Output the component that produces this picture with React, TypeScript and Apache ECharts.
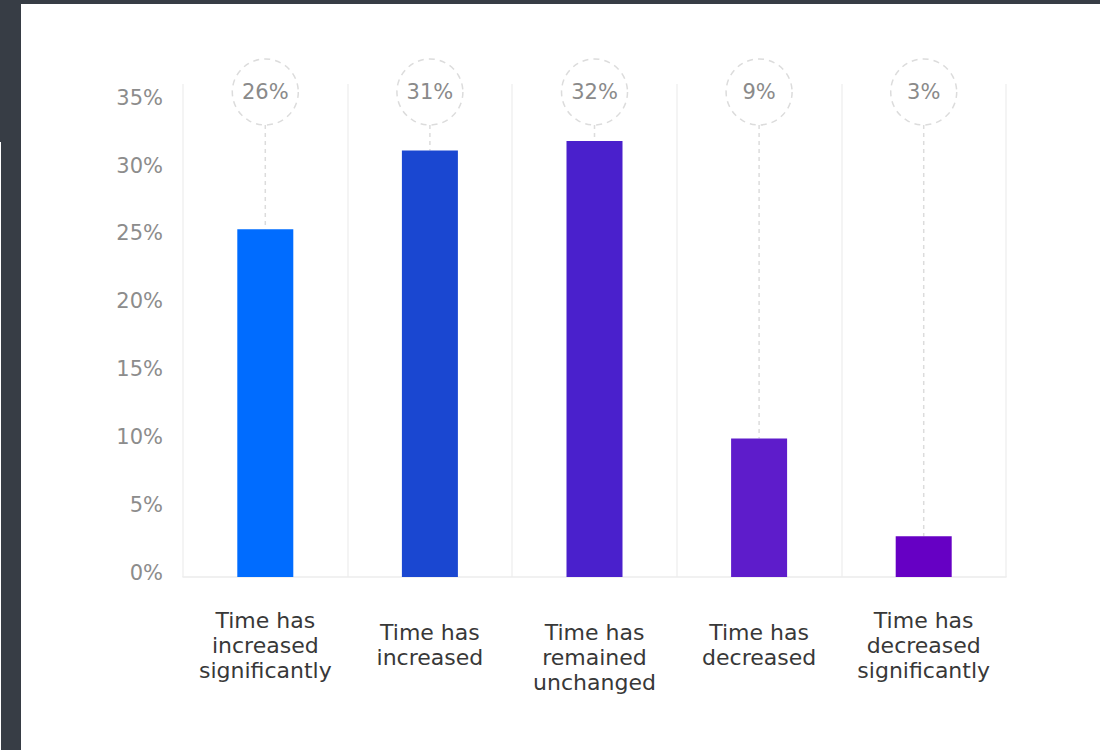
import React, { useEffect, useRef } from "react";
import * as echarts from "echarts";

const categories = [
  "Time has\nincreased\nsignificantly",
  "Time has\nincreased",
  "Time has\nremained\nunchanged",
  "Time has\ndecreased",
  "Time has\ndecreased\nsignificantly",
];
const values = [25.6, 31.4, 32.1, 10.2, 3.0];
const valueLabels = ["26%", "31%", "32%", "9%", "3%"];
const barColors = ["#006CFF", "#1A47D1", "#4A20CC", "#5E1CCB", "#6600C4"];
const yTicks = [0, 5, 10, 15, 20, 25, 30, 35];

const FONT = "'DejaVu Sans', 'Noto Sans', sans-serif";

export default function App() {
  const ref = useRef<HTMLDivElement>(null);
  useEffect(() => {
    document.body.style.margin = "0";
    const chart = echarts.init(ref.current!, null, { renderer: "svg" });
    const yMax = 36.3;
    chart.setOption({
      animation: false,
      backgroundColor: "#ffffff",
      grid: { left: 183, right: 94, top: 84, bottom: 173, containLabel: false },
      xAxis: {
        type: "category",
        data: categories,
        axisLine: { show: true, lineStyle: { color: "#ececec", width: 1.5 } },
        axisTick: { show: false },
        splitLine: { show: true, lineStyle: { color: "#f1f1f1", width: 1.5 } },
        axisLabel: {
          interval: 0,
          margin: 68,
          verticalAlign: "middle",
          lineHeight: 25,
          fontSize: 22,
          fontFamily: FONT,
          color: "#383838",
          align: "center",
          formatter: (v: string, i: number) => (i === 2 ? " \n" + v : v),
        },
      },
      yAxis: {
        type: "value",
        min: 0,
        max: yMax,
        interval: 5,
        axisLine: { show: false },
        axisTick: { show: false },
        splitLine: { show: false },
        axisLabel: {
          margin: 20,
          fontSize: 21,
          fontFamily: FONT,
          color: "#8c8c8c",
          verticalAlign: "bottom",
          lineHeight: 8,
          formatter: (v: number) => (yTicks.indexOf(v) >= 0 ? v + "%" : ""),
        },
      },
      series: [
        {
          type: "bar",
          barWidth: 56,
          data: values.map((v, i) => ({ value: v, itemStyle: { color: barColors[i] } })),
          z: 3,
        },
        {
          type: "custom",
          z: 2,
          data: values.map((v, i) => [i, v]),
          renderItem: (params: any, api: any) => {
            const i = api.value(0);
            const v = api.value(1);
            const top = api.coord([i, v]);
            const cy = api.coord([i, yMax])[1] + 8;
            const cx = top[0];
            const r = 33;
            return {
              type: "group",
              children: [
                {
                  type: "line",
                  shape: { x1: cx, y1: cy + r, x2: cx, y2: top[1] },
                  style: { stroke: "#dcdcdc", lineWidth: 1.5, lineDash: [4, 4] },
                },
                {
                  type: "circle",
                  shape: { cx, cy, r },
                  style: { fill: "#ffffff", stroke: "#dcdcdc", lineWidth: 1.5, lineDash: [6, 5] },
                },
                {
                  type: "text",
                  x: cx,
                  y: cy,
                  style: {
                    text: valueLabels[params.dataIndex],
                    fill: "#8a8a8a",
                    fontSize: 21,
                    fontFamily: FONT,
                    align: "center",
                    verticalAlign: "middle",
                  },
                },
              ],
            };
          },
        },
      ],
      graphic: [
        { type: "rect", shape: { x: 0, y: 0, width: 1100, height: 4 }, style: { fill: "#373d45" }, z: 10 },
        { type: "rect", shape: { x: 0, y: 0, width: 21, height: 750 }, style: { fill: "#373d45" }, z: 10 },
        { type: "rect", shape: { x: 0, y: 142, width: 1, height: 608 }, style: { fill: "#ffffff" }, z: 11 },
      ],
    });
    return () => chart.dispose();
  }, []);
  return <div ref={ref} style={{ width: 1100, height: 750 }} />;
}
